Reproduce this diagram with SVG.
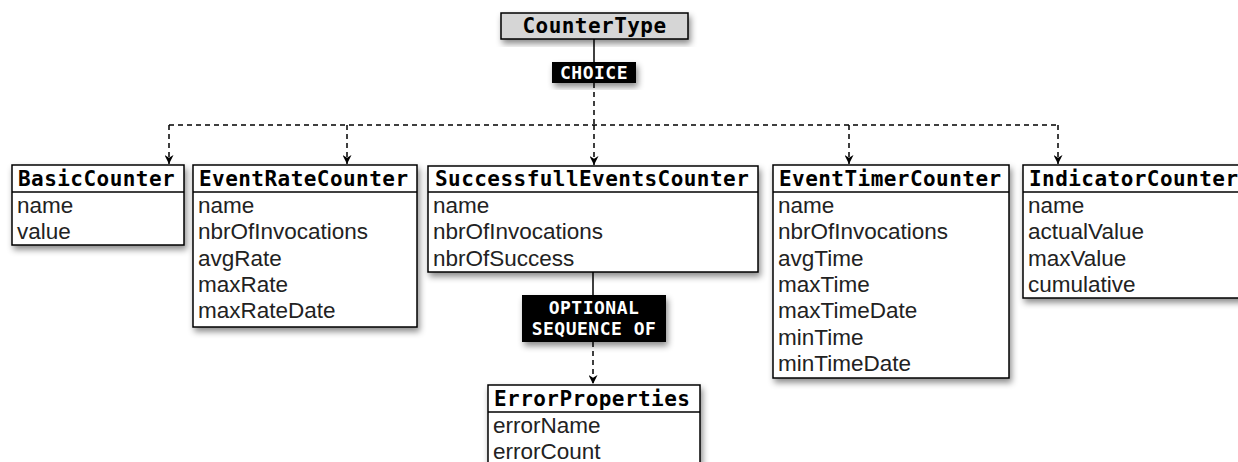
<svg xmlns="http://www.w3.org/2000/svg" width="1238" height="462" viewBox="0 0 1238 462">
  <defs>
    <filter id="shadow" x="-10%" y="-10%" width="125%" height="140%">
      <feDropShadow dx="2" dy="4" stdDeviation="3" flood-color="#000" flood-opacity="0.45"/>
    </filter>
    <marker id="arrow" viewBox="0 0 10 10" refX="10" refY="5" markerWidth="10" markerHeight="9" markerUnits="userSpaceOnUse" orient="auto">
      <path d="M0,0 L10,5 L0,10 L3,5 Z" fill="#000"/>
    </marker>
  </defs>
  <style>
    .box { fill: #fff; stroke: #000; stroke-width: 1.5; filter: url(#shadow); }
    .root { fill: #d6d6d6; stroke: #000; stroke-width: 1.5; filter: url(#shadow); }
    .sep { stroke: #000; stroke-width: 1.5; }
    .label { fill: #000; filter: url(#shadow); }
    .hdr { font-family: "DejaVu Sans Mono", "Liberation Mono", monospace; font-weight: bold; font-size: 21px; letter-spacing: 0.45px; fill: #000; }
    .lbl { font-family: "DejaVu Sans Mono", "Liberation Mono", monospace; font-weight: bold; font-size: 18px; letter-spacing: 0.5px; fill: #fff; text-anchor: middle; }
    .attr { font-family: "Liberation Sans", Arial, sans-serif; font-size: 22.5px; fill: #222; }
    .solid { stroke: #000; stroke-width: 1.5; fill: none; }
    .dash { stroke: #000; stroke-width: 1.5; fill: none; stroke-dasharray: 5 4; }
  </style>

  <!-- connectors -->
  <g id="connectors">
    <line class="solid" x1="594" y1="39" x2="594" y2="62"/>
    <line class="dash" x1="594" y1="83" x2="594" y2="125"/>
    <line class="dash" x1="169" y1="125" x2="1058" y2="125"/>
    <line class="dash" x1="169" y1="125" x2="169" y2="164" marker-end="url(#arrow)"/>
    <line class="dash" x1="347" y1="125" x2="347" y2="164" marker-end="url(#arrow)"/>
    <line class="dash" x1="594" y1="125" x2="594" y2="165" marker-end="url(#arrow)"/>
    <line class="dash" x1="849" y1="125" x2="849" y2="164" marker-end="url(#arrow)"/>
    <line class="dash" x1="1058" y1="125" x2="1058" y2="164" marker-end="url(#arrow)"/>
    <line class="solid" x1="593" y1="272" x2="593" y2="295"/>
    <line class="dash" x1="593" y1="342" x2="593" y2="384" marker-end="url(#arrow)"/>
  </g>

  <!-- root type -->
  <g id="counter-type">
    <rect class="root" x="501" y="13" width="187" height="26"/>
    <text class="hdr" x="594.5" y="33" text-anchor="middle">CounterType</text>
  </g>

  <g id="choice">
    <rect class="label" x="552" y="62" width="84" height="21"/>
    <text class="lbl" x="594" y="79">CHOICE</text>
  </g>

  <g id="basic-counter">
    <rect class="box" x="12" y="165" width="172" height="80"/>
    <line class="sep" x1="12" y1="192" x2="184" y2="192"/>
    <text class="hdr" x="18" y="185.5">BasicCounter</text>
    <text class="attr" x="17" y="213">name</text>
    <text class="attr" x="17" y="239">value</text>
  </g>

  <g id="event-rate-counter">
    <rect class="box" x="193" y="165" width="224" height="162"/>
    <line class="sep" x1="193" y1="192" x2="417" y2="192"/>
    <text class="hdr" x="199" y="185.5">EventRateCounter</text>
    <text class="attr" x="198" y="213">name</text>
    <text class="attr" x="198" y="239.3">nbrOfInvocations</text>
    <text class="attr" x="198" y="265.6">avgRate</text>
    <text class="attr" x="198" y="291.9">maxRate</text>
    <text class="attr" x="198" y="318.2">maxRateDate</text>
  </g>

  <g id="successfull-events-counter">
    <rect class="box" x="428" y="166" width="330" height="106"/>
    <line class="sep" x1="428" y1="192" x2="758" y2="192"/>
    <text class="hdr" x="435" y="185.5">SuccessfullEventsCounter</text>
    <text class="attr" x="433" y="213">name</text>
    <text class="attr" x="433" y="239.3">nbrOfInvocations</text>
    <text class="attr" x="433" y="265.6">nbrOfSuccess</text>
  </g>

  <g id="event-timer-counter">
    <rect class="box" x="773" y="165" width="236" height="213"/>
    <line class="sep" x1="773" y1="192" x2="1009" y2="192"/>
    <text class="hdr" x="779" y="185.5">EventTimerCounter</text>
    <text class="attr" x="778" y="213">name</text>
    <text class="attr" x="778" y="239.3">nbrOfInvocations</text>
    <text class="attr" x="778" y="265.6">avgTime</text>
    <text class="attr" x="778" y="291.9">maxTime</text>
    <text class="attr" x="778" y="318.2">maxTimeDate</text>
    <text class="attr" x="778" y="344.5">minTime</text>
    <text class="attr" x="778" y="370.8">minTimeDate</text>
  </g>

  <g id="indicator-counter">
    <rect class="box" x="1023" y="165" width="220" height="133"/>
    <line class="sep" x1="1023" y1="192" x2="1243" y2="192"/>
    <text class="hdr" x="1029" y="185.5">IndicatorCounter</text>
    <text class="attr" x="1028" y="213">name</text>
    <text class="attr" x="1028" y="239.3">actualValue</text>
    <text class="attr" x="1028" y="265.6">maxValue</text>
    <text class="attr" x="1028" y="291.9">cumulative</text>
  </g>

  <g id="optional-sequence">
    <rect class="label" x="522" y="295" width="144" height="47"/>
    <text class="lbl" x="594" y="313.5">OPTIONAL</text>
    <text class="lbl" x="594" y="335">SEQUENCE OF</text>
  </g>

  <g id="error-properties">
    <rect class="box" x="488" y="385" width="212" height="90"/>
    <line class="sep" x1="488" y1="412" x2="700" y2="412"/>
    <text class="hdr" x="494" y="405.5">ErrorProperties</text>
    <text class="attr" x="493" y="433">errorName</text>
    <text class="attr" x="493" y="459.3">errorCount</text>
  </g>
</svg>
